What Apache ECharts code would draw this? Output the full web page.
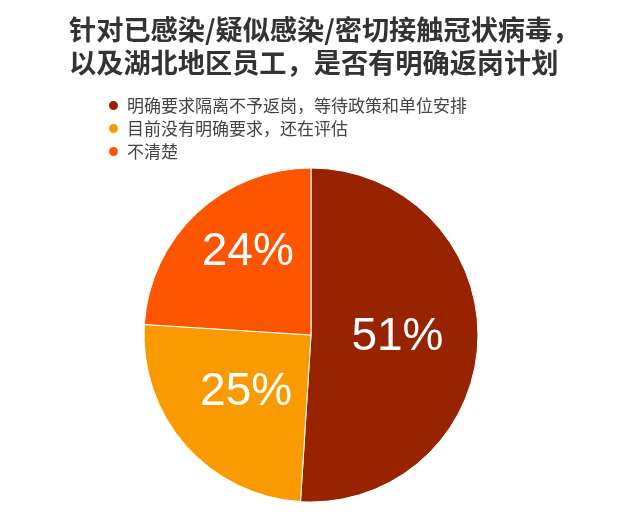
<!DOCTYPE html>
<html lang="zh">
<head>
    <meta charset="UTF-8">
    <title>返岗计划</title>
    <script src="https://cdn.jsdelivr.net/npm/echarts@6/dist/echarts.min.js"></script>
    <style>
        html, body { margin: 0; padding: 0; background: #fff; }
        #container { width: 643px; height: 528px; }
    </style>
</head>
<body>
<div id="container"></div>
<script>
    // 数据
    var titleLines = ['针对已感染/疑似感染/密切接触冠状病毒，', '以及湖北地区员工，是否有明确返岗计划'];
    var categories = ['明确要求隔离不予返岗，等待政策和单位安排', '目前没有明确要求，还在评估', '不清楚'];
    var values = [51, 25, 24];
    var colors = ['#982300', '#f99b00', '#fe5500'];

    var dom = document.getElementById('container');
    var myChart = echarts.init(dom);

    var pieData = categories.map(function (name, i) {
        var item = { name: name, value: values[i], itemStyle: { color: colors[i] } };
        if (i === 2) {
            // 24% 标签位置略偏上
            item.label = { offset: [-4, -20] };
        }
        return item;
    });

    var option = {
        backgroundColor: '#fff',
        animation: false,
        title: {
            text: titleLines.join('\n'),
            left: 64,
            top: 8,
            textAlign: 'left',
            textStyle: {
                color: '#333',
                fontSize: 27.2,
                fontWeight: 'bold',
                lineHeight: 33,
                fontFamily: 'Noto Sans CJK SC'
            }
        },
        legend: {
            orient: 'vertical',
            left: 102,
            top: 92,
            icon: 'circle',
            itemWidth: 11,
            itemHeight: 11,
            itemGap: 6,
            selectedMode: false,
            data: categories,
            textStyle: {
                color: '#444',
                fontSize: 17,
                fontFamily: 'Noto Sans CJK SC',
                padding: [0, 0, 0, 3]
            }
        },
        series: [{
            type: 'pie',
            center: [311, 335],
            radius: 167,
            startAngle: 90,
            clockwise: true,
            silent: true,
            itemStyle: {
                borderColor: '#fff',
                borderWidth: 1
            },
            label: {
                show: true,
                position: 'inside',
                formatter: '{c}%',
                color: '#fff',
                fontSize: 46,
                fontFamily: 'Liberation Sans'
            },
            labelLine: { show: false },
            data: pieData
        }]
    };

    myChart.setOption(option);
</script>
</body>
</html>
